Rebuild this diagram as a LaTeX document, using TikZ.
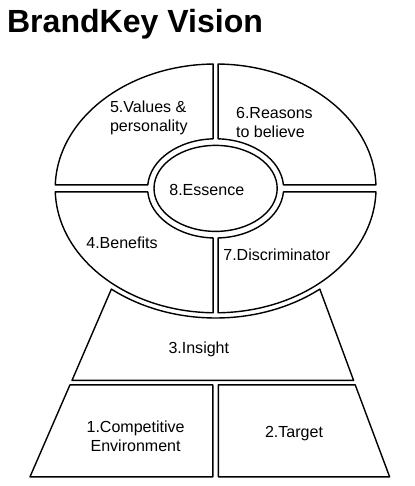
\documentclass[tikz,border=0pt]{standalone}
\usepackage{fontspec}
\setmainfont{Liberation Sans}
\usetikzlibrary{calc}

\begin{document}
\begin{tikzpicture}[
  seg/.style={line width=1pt, line join=round},
  txt/.style={font=\fontsize{11.4}{13.5}\selectfont, inner sep=0pt}
]
  \useasboundingbox (0,0) rectangle (10.35,12.15);

  \node[anchor=base west, inner sep=0pt, font=\fontsize{22.8}{27}\selectfont\bfseries] (title) at (0.17,11.33) {BrandKey Vision};

  % Ellipse centre
  \coordinate (c) at (5.39,7.44);

  % Upper right: reasons
  \draw[seg] ($(c)+(1.61:4.01 and 3.11)$) arc[start angle=1.61, end angle=89.11, x radius=4.01, y radius=3.11]
    -- ($(c)+(87.89:1.70 and 1.24)$) arc[start angle=87.89, end angle=4.05, x radius=1.70, y radius=1.24] -- cycle;

  % Upper left: values
  \draw[seg] ($(c)+(90.89:4.01 and 3.11)$) arc[start angle=90.89, end angle=178.39, x radius=4.01, y radius=3.11]
    -- ($(c)+(175.95:1.70 and 1.24)$) arc[start angle=175.95, end angle=92.11, x radius=1.70, y radius=1.24] -- cycle;

  % Lower left: benefits
  \draw[seg] ($(c)+(181.61:4.01 and 3.11)$) arc[start angle=181.61, end angle=269.11, x radius=4.01, y radius=3.11]
    -- ($(c)+(267.89:1.70 and 1.24)$) arc[start angle=267.89, end angle=184.05, x radius=1.70, y radius=1.24] -- cycle;

  % Lower right: discriminator
  \draw[seg] ($(c)+(270.89:4.01 and 3.11)$) arc[start angle=270.89, end angle=358.39, x radius=4.01, y radius=3.11]
    -- ($(c)+(355.95:1.70 and 1.24)$) arc[start angle=355.95, end angle=272.11, x radius=1.70, y radius=1.24] -- cycle;

  % Essence core
  \draw[seg] (c) ellipse[x radius=1.54, y radius=1.075];

  % Insight
  \draw[seg] ($(c)+(231:4.14 and 3.24)$) arc[start angle=231, end angle=309, x radius=4.14, y radius=3.24]
    -- (8.84,2.64) -- (1.80,2.64) -- cycle;

  % Competitive environment
  \draw[seg] (1.75,2.53) -- (5.32,2.53) -- (5.32,0.23) -- (0.75,0.23) -- cycle;

  % Target
  \draw[seg] (5.46,2.53) -- (8.88,2.53) -- (9.74,0.23) -- (5.46,0.23) -- cycle;

  % Labels
  \node[txt, align=left] (values) at (3.72,9.20) {5.Values \&\\personality};
  \node[txt, align=left] (reasons) at (6.86,9.10) {6.Reasons\\to believe};
  \node[txt] (essence) at (5.17,7.40) {8.Essence};
  \node[txt] (benefits) at (3.05,6.07) {4.Benefits};
  \node[txt] (discrim) at (6.92,5.77) {7.Discriminator};
  \node[txt] (insight) at (4.97,3.42) {3.Insight};
  \node[txt, align=center] (competitive) at (3.39,1.24) {1.Competitive\\Environment};
  \node[txt] (target) at (7.35,1.32) {2.Target};
\end{tikzpicture}
\end{document}
